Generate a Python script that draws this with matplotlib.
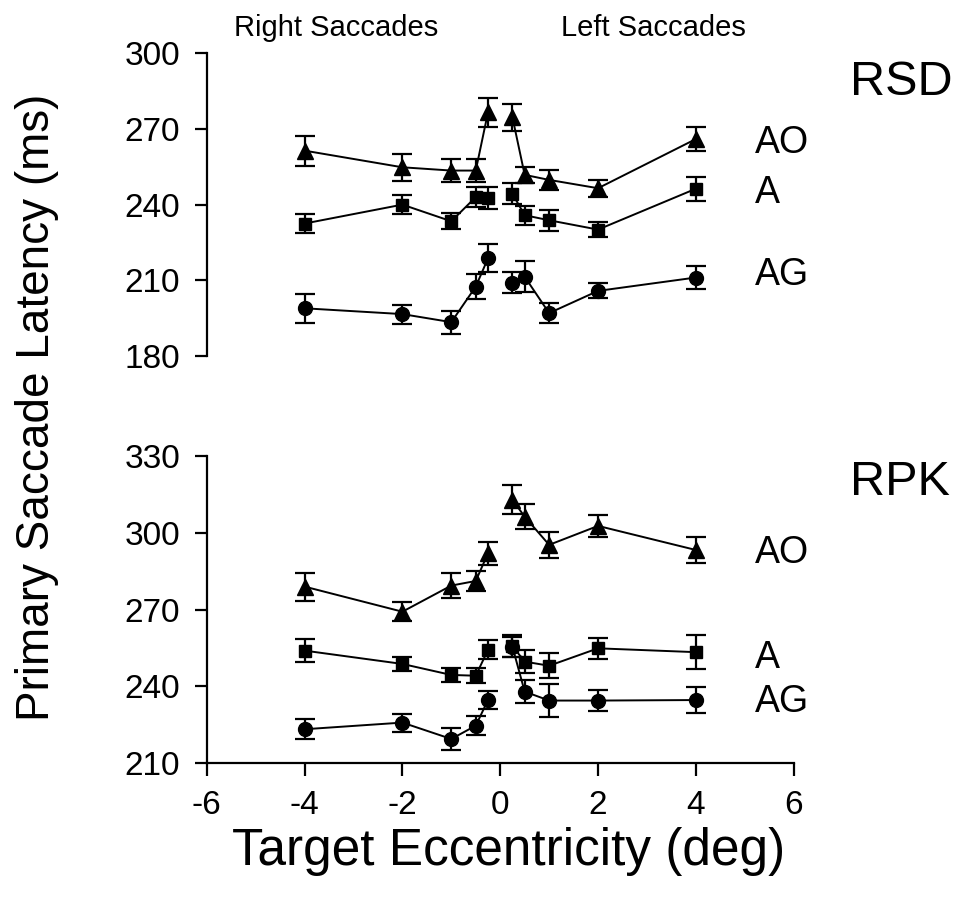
import matplotlib
matplotlib.use("Agg")
import matplotlib.pyplot as plt
import numpy as np

plt.rcParams['font.family'] = ['Liberation Sans', 'DejaVu Sans']
plt.rcParams['axes.unicode_minus'] = False

# target eccentricity (deg), negative = right saccades, positive = left saccades
ecc = [-4, -2, -1, -0.5, -0.25, 0.25, 0.5, 1, 2, 4]

# subject RSD
rsd_ao = [261.4, 254.8, 253.5, 253.5, 276.6, 274.6, 251.8, 249.8, 246.5, 266.0]
rsd_ao_err = [5.9, 5.3, 4.5, 4.6, 5.8, 5.4, 3.2, 4.0, 3.3, 4.6]
rsd_a = [232.5, 240.0, 233.4, 243.0, 242.6, 244.3, 235.8, 233.8, 230.1, 246.3]
rsd_a_err = [3.9, 3.8, 3.1, 3.8, 4.4, 4.1, 3.8, 4.1, 2.9, 4.7]
rsd_ag = [198.9, 196.6, 193.4, 207.5, 218.7, 209.1, 211.4, 197.0, 205.8, 211.1]
rsd_ag_err = [5.7, 3.8, 4.6, 4.8, 5.6, 4.1, 6.1, 3.9, 3.0, 4.4]

# subject RPK
rpk_ao = [279.0, 269.2, 279.4, 281.2, 292.0, 312.9, 306.3, 295.3, 302.7, 293.3]
rpk_ao_err = [5.5, 3.8, 4.9, 4.0, 4.4, 5.7, 4.8, 5.0, 4.4, 4.9]
rpk_a = [254.0, 248.8, 244.5, 244.2, 254.3, 255.8, 249.7, 248.1, 254.9, 253.4]
rpk_a_err = [4.4, 2.9, 2.9, 2.9, 3.7, 4.2, 4.4, 4.8, 4.0, 6.6]
rpk_ag = [223.3, 225.9, 219.5, 224.7, 234.7, 255.5, 238.0, 234.5, 234.5, 234.7]
rpk_ag_err = [4.0, 3.5, 4.2, 3.8, 3.5, 4.0, 4.4, 6.4, 4.2, 5.0]

conditions = ['AO', 'A', 'AG']
markers = ['^', 's', 'o']
msizes = [12, 9, 10]

# label positions (y, in data units) for each panel
rsd_label_y = [264.4, 244.6, 212.1]
rpk_label_y = [292.0, 251.3, 234.1]


def draw_series(ax, y, err, marker, ms):
    x = np.array(ecc)
    y = np.array(y)
    err = np.array(err)
    # left and right saccades are drawn as separate lines
    for part in (x < 0, x > 0):
        ax.errorbar(x[part], y[part], yerr=err[part], fmt='-', marker=marker,
                    color='black', ms=ms, lw=1.4, elinewidth=1.6,
                    capsize=7, capthick=1.6, clip_on=False)


fig = plt.figure(figsize=(9.58, 9.06), dpi=100)
ax1 = fig.add_axes([0.2158, 0.6071, 0.6127, 0.3341])
ax2 = fig.add_axes([0.2158, 0.1575, 0.6127, 0.3392])

panels = [
    (ax1, [rsd_ao, rsd_a, rsd_ag], [rsd_ao_err, rsd_a_err, rsd_ag_err],
     rsd_label_y, 'RSD', 288.5, (180, 300)),
    (ax2, [rpk_ao, rpk_a, rpk_ag], [rpk_ao_err, rpk_a_err, rpk_ag_err],
     rpk_label_y, 'RPK', 319.5, (210, 330)),
]

for ax, ys, errs, label_y, name, name_y, ylim in panels:
    for y, e, m, ms in zip(ys, errs, markers, msizes):
        draw_series(ax, y, e, m, ms)
    for cond, ly in zip(conditions, label_y):
        ax.text(5.2, ly, cond, fontsize=27, ha='left', va='center', clip_on=False)
    ax.text(7.15, name_y, name, fontsize=35, ha='left', va='center', clip_on=False)
    ax.set_xlim(-6, 6)
    ax.set_ylim(*ylim)
    ax.set_yticks(np.arange(ylim[0], ylim[1] + 1, 30))
    ax.spines['top'].set_visible(False)
    ax.spines['right'].set_visible(False)
    ax.spines['left'].set_linewidth(1.6)
    ax.spines['bottom'].set_linewidth(1.6)
    ax.tick_params(direction='out', length=9, width=1.6, labelsize=24, pad=10)

ax1.spines['bottom'].set_visible(False)
ax1.set_xticks([])
ax2.set_xticks(np.arange(-6, 7, 2))

fig.text(336 / 958, 1 - 28 / 906, 'Right Saccades', fontsize=21, ha='center', va='center')
fig.text(653 / 958, 1 - 28 / 906, 'Left Saccades', fontsize=21, ha='center', va='center')
fig.text(37 / 958, 1 - 407 / 906, 'Primary Saccade Latency (ms)', fontsize=33,
         rotation=90, ha='center', va='center')
fig.text(509 / 958, 1 - 852 / 906, 'Target Eccentricity (deg)', fontsize=37,
         ha='center', va='center')

fig.savefig('out.png', dpi=100)
